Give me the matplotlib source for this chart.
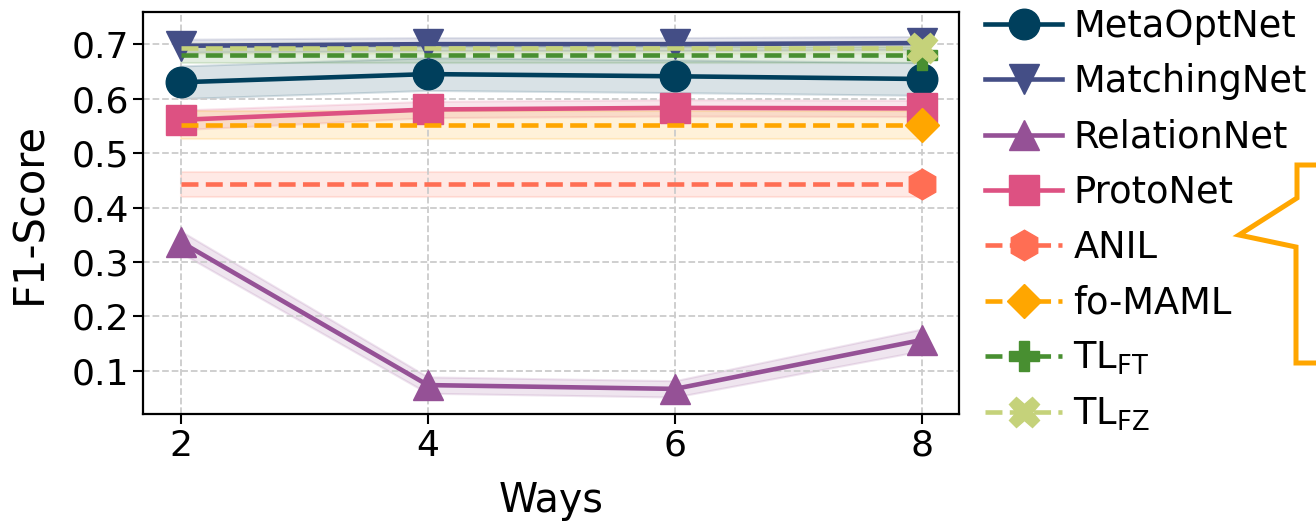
import numpy as np
import matplotlib
matplotlib.use("Agg")
import matplotlib.pyplot as plt
from matplotlib.patches import Polygon

# Data
ways = [2, 4, 6, 8]

metaoptnet = [0.630, 0.645, 0.641, 0.636]
matchingnet = [0.697, 0.700, 0.700, 0.702]
relationnet = [0.337, 0.074, 0.067, 0.157]
protonet = [0.561, 0.580, 0.583, 0.582]
anil = [0.443, 0.443, 0.443, 0.443]
fo_maml = [0.551, 0.551, 0.551, 0.551]
tl_ft = [0.680, 0.680, 0.680, 0.680]
tl_fz = [0.692, 0.692, 0.692, 0.692]

metaoptnet_std = [0.030, 0.030, 0.030, 0.030]
matchingnet_std = [0.012, 0.012, 0.012, 0.012]
relationnet_std = [0.020, 0.015, 0.015, 0.020]
protonet_std = [0.018, 0.015, 0.015, 0.015]
anil_std = [0.023, 0.023, 0.023, 0.023]
fo_maml_std = [0.026, 0.026, 0.026, 0.026]
tl_ft_std = [0.015, 0.015, 0.015, 0.015]
tl_fz_std = [0.010, 0.010, 0.010, 0.010]

series = [
    ("MetaOptNet", metaoptnet, metaoptnet_std, "#003f5c", "o", "-", None),
    ("MatchingNet", matchingnet, matchingnet_std, "#444e86", "v", "-", None),
    ("RelationNet", relationnet, relationnet_std, "#955196", "^", "-", None),
    ("ProtoNet", protonet, protonet_std, "#dd5182", "s", "-", None),
    ("ANIL", anil, anil_std, "#ff6e54", "h", "--", [3]),
    ("fo-MAML", fo_maml, fo_maml_std, "#ffa600", "D", "--", [3]),
    (r"TL$_\mathrm{FT}$", tl_ft, tl_ft_std, "#488f31", "P", "--", [3]),
    (r"TL$_\mathrm{FZ}$", tl_fz, tl_fz_std, "#c5d27a", "X", "--", [3]),
]

fig = plt.figure(figsize=(13.16, 5.22), dpi=100)
ax = fig.add_axes([0.109, 0.207, 0.620, 0.770])

x = np.array(ways)
for name, vals, std, color, marker, ls, every in series:
    vals = np.array(vals)
    std = np.array(std)
    ax.fill_between(x, vals - std, vals + std, color=color, alpha=0.15, linewidth=1.5)
    ms = 22 if marker != "D" else 17
    ax.plot(x, vals, color=color, marker=marker, linestyle=ls, linewidth=3.3,
            markersize=ms, markevery=every, label=name)

ax.set_xlim(1.7, 8.3)
ax.set_ylim(0.021, 0.759)
ax.set_xticks(ways)
ax.set_yticks([0.1, 0.2, 0.3, 0.4, 0.5, 0.6, 0.7])
ax.tick_params(labelsize=26, width=1.5, length=7)
ax.grid(True, linestyle="--", color="#cccccc", linewidth=1.3)
for s in ax.spines.values():
    s.set_linewidth(1.6)
ax.set_xlabel("Ways", fontsize=28.5, labelpad=13)
ax.set_ylabel("F1-Score", fontsize=30, labelpad=15)

ax.legend(loc="upper left", bbox_to_anchor=(1.0, 1.075), frameon=False,
          fontsize=26.5, handlelength=2.1, handletextpad=0.3, labelspacing=0.5,
          borderaxespad=0.3)

# callout shape cut off at the right edge
W, H = 1316.0, 522.0
pts = [(1297, 165), (1330, 165), (1330, 363), (1296, 363), (1296, 247),
       (1239, 235), (1297, 198)]
pts = [(px / W, 1 - py / H) for px, py in pts]
fig.patches.append(Polygon(pts, closed=True, transform=fig.transFigure,
                           facecolor="white", edgecolor="#ffa600", linewidth=3.6))

fig.savefig("out.png", dpi=100)
